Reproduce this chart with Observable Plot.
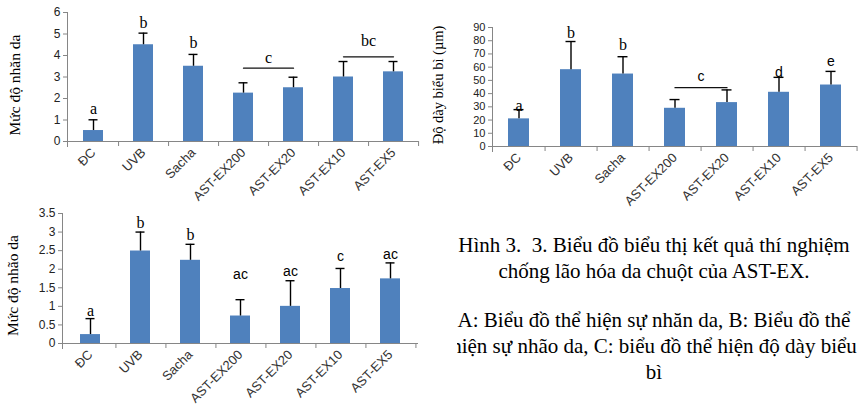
<!DOCTYPE html>
<html><head><meta charset="utf-8">
<script src="https://cdn.jsdelivr.net/npm/d3@7"></script>
<script src="https://cdn.jsdelivr.net/npm/@observablehq/plot@0.6"></script>
<style>
body{margin:0;background:#fff;width:858px;height:408px;overflow:hidden;position:relative;}
.chart{position:absolute;}
.cap{position:absolute;font-family:"Liberation Serif","Times New Roman",serif;font-size:21px;line-height:26px;white-space:nowrap;text-align:center;color:#000;}
</style></head>
<body>
<div id="a" class="chart" style="left:0;top:0"></div>
<div id="b" class="chart" style="left:430px;top:0"></div>
<div id="c" class="chart" style="left:0;top:200px"></div>
<div style="position:absolute;left:457px;top:0;width:401px;height:408px;overflow:hidden">
  <div class="cap" style="left:-103px;width:600px;top:232px">Hình 3.&nbsp; 3. Biểu đồ biểu thị kết quả thí nghiệm<br>chống lão hóa da chuột của AST-EX.</div>
  <div class="cap" style="left:-103px;width:600px;top:307px">A: Biểu đồ thể hiện sự nhăn da, B: Biểu đồ thể<br>hiện sự nhão da, C: biểu đồ thể hiện độ dày biểu<br>bì</div>
</div>
<script>
const categories = ["ĐC","UVB","Sacha","AST-EX200","AST-EX20","AST-EX10","AST-EX5"];

// A: Mức độ nhăn da
const wrinkleMean = [0.51, 4.5, 3.5, 2.25, 2.5, 3.0, 3.24];
const wrinkleSd = [0.5, 0.54, 0.55, 0.48, 0.49, 0.72, 0.48];
const wrinkleLetters = ["a","b","b","","","",""];
const wrinkleLetterY = [1.53, 5.5, 4.57, null, null, null, null];
const wrinkleTicks = [0,1,2,3,4,5,6];
const wrinkleBrackets = [
  {from:"AST-EX200", to:"AST-EX20", y:3.41, label:"c", labelY:3.9},
  {from:"AST-EX10", to:"AST-EX5", y:3.94, label:"bc", labelY:4.67}
];

// B: Độ dày biểu bì
const thickMean = [20.9, 58.1, 54.8, 28.9, 33.2, 41.0, 46.5];
const thickSd = [7.0, 21.3, 13.1, 6.6, 9.6, 11.3, 10.3];
const thickLetters = ["a","b","b","","","d","e"];
const thickLetterY = [30.9, 86.2, 77.0, null, null, 55.8, 64.6];
const thickTicks = [0,10,20,30,40,50,60,70,80,90];
const thickBrackets = [
  {from:"AST-EX200", to:"AST-EX20", y:44.5, label:"c", labelY:53.2}
];

// C: Mức độ nhão da
const laxMean = [0.24, 2.49, 2.24, 0.74, 1.0, 1.48, 1.74];
const laxSd = [0.43, 0.51, 0.43, 0.44, 0.69, 0.54, 0.43];
const laxLetters = ["a","b","b","ac","ac","c","ac"];
const laxLetterY = [0.88, 3.26, 2.93, 1.87, 1.95, 2.33, 2.40];
const laxTicks = [0,0.5,1,1.5,2,2.5,3,3.5];
const laxBrackets = [];

const SANS = "Liberation Sans, Arial, sans-serif";
const SERIF = "Liberation Serif, Times New Roman, serif";

function chart(o) {
  const rows = categories.map((c, i) => ({c, m: o.mean[i], hi: o.mean[i] + o.sd[i], t: o.letters[i], ly: o.letterY[i]}));
  const step = (o.width - o.ml - o.mr) / categories.length;
  const brk = o.brackets.flatMap((b, k) => [{g: k, c: b.from, y: b.y}, {g: k, c: b.to, y: b.y}]);
  const isSerif = (t) => o.allSerif || t === "a" || t === "b";
  return Plot.plot({
    width: o.width, height: o.height,
    marginLeft: o.ml, marginRight: o.mr, marginTop: o.mt, marginBottom: o.mb,
    style: {fontFamily: SANS, background: "transparent", overflow: "visible"},
    x: {domain: categories, paddingInner: 0.6, paddingOuter: 0.3, label: null},
    y: {domain: o.yDomain, label: null},
    marks: [
      Plot.barY(rows, {x: "c", y: "m", fill: "#4F81BD"}),
      Plot.ruleX(rows, {x: "c", y1: "m", y2: "hi", stroke: "#000", strokeWidth: 1.4}),
      Plot.tickY(rows, {x: "c", y: "hi", stroke: "#000", strokeWidth: 1.4, insetLeft: 5.5, insetRight: 5.5}),
      Plot.ruleY([0], {stroke: "#868686"}),
      Plot.frame({anchor: "left", stroke: "#868686", insetBottom: -5}),
      Plot.axisY({ticks: o.ticks, tickSize: 4, tickPadding: 3, stroke: "#868686", fill: "#222", fontSize: o.yFont, tickFormat: (d) => String(d), label: null}),
      Plot.axisX({tickSize: 5, tickFormat: () => "", dx: step / 2, stroke: "#868686", label: null}),
      Plot.axisX({tickSize: 0, tickRotate: -45, tickPadding: 9, fontSize: 13, fill: "#333", label: null}),
      Plot.line(brk, {x: "c", y: "y", z: "g", stroke: "#111", strokeWidth: 1.3}),
      Plot.text(o.brackets.filter(b => o.allSerif), {x: "from", y: "labelY", text: "label", dx: step / 2, fontFamily: SERIF, fontSize: 16}),
      Plot.text(o.brackets.filter(b => !o.allSerif), {x: "from", y: "labelY", text: "label", dx: step / 2, fontFamily: SANS, fontSize: 14}),
      Plot.text(rows.filter(r => r.t && isSerif(r.t)), {x: "c", y: "ly", text: "t", fontFamily: SERIF, fontSize: 16}),
      Plot.text(rows.filter(r => r.t && !isSerif(r.t)), {x: "c", y: "ly", text: "t", fontFamily: SANS, fontSize: 14}),
      Plot.text([o.yLabel], {frameAnchor: "left", rotate: -90, dx: o.labelDx, dy: o.labelDy, fontFamily: SERIF, fontSize: o.labelSize, textAnchor: "middle", fill: "#000"})
    ]
  });
}

document.getElementById("a").append(chart({
  mean: wrinkleMean, sd: wrinkleSd, letters: wrinkleLetters, letterY: wrinkleLetterY,
  ticks: wrinkleTicks, brackets: wrinkleBrackets, yDomain: [0, 6], allSerif: true,
  width: 430, height: 200, ml: 67, mr: 12, mt: 12, mb: 59, yFont: 12,
  yLabel: "Mức độ nhăn da", labelDx: -52, labelDy: 8, labelSize: 15.5
}));
document.getElementById("b").append(chart({
  mean: thickMean, sd: thickSd, letters: thickLetters, letterY: thickLetterY,
  ticks: thickTicks, brackets: thickBrackets, yDomain: [0, 90], allSerif: false,
  width: 428, height: 215, ml: 62, mr: 1, mt: 27, mb: 69, yFont: 11,
  yLabel: "Độ dày biểu bì (µm)", labelDx: -54, labelDy: -2, labelSize: 14.5
}));
document.getElementById("c").append(chart({
  mean: laxMean, sd: laxSd, letters: laxLetters, letterY: laxLetterY,
  ticks: laxTicks, brackets: laxBrackets, yDomain: [0, 3.5], allSerif: false,
  width: 430, height: 208, ml: 62, mr: 12, mt: 13, mb: 65, yFont: 12,
  yLabel: "Mức độ nhão da", labelDx: -49, labelDy: 7, labelSize: 15.5
}));
</script>
</body></html>
